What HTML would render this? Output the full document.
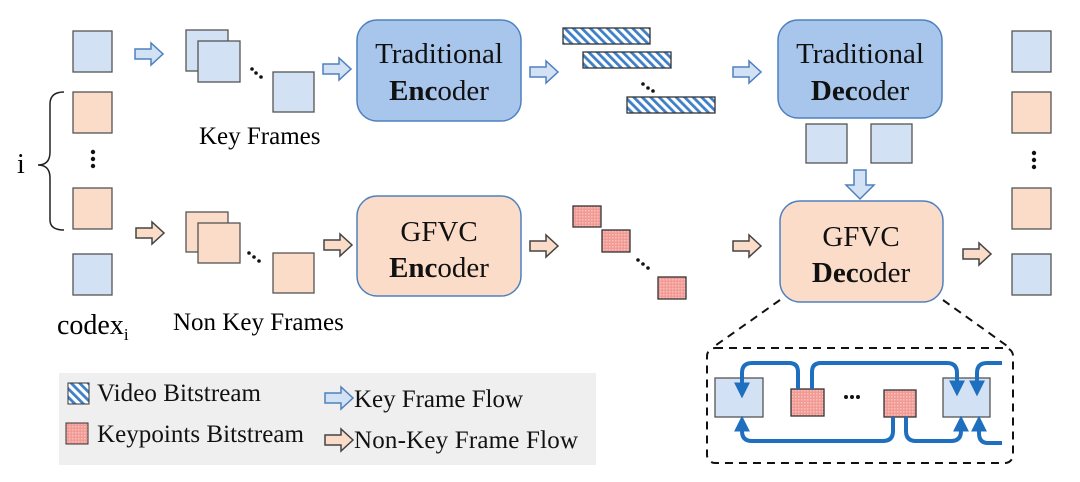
<!DOCTYPE html>
<html><head><meta charset="utf-8"><style>
html,body{margin:0;padding:0;background:#fff;}
svg{display:block;font-family:"Liberation Serif",serif;}
</style></head><body>
<svg width="1080" height="482" viewBox="0 0 1080 482" xmlns="http://www.w3.org/2000/svg">
<defs>
<pattern id="hatch" width="6" height="6" patternUnits="userSpaceOnUse" patternTransform="rotate(-45)">
<rect width="6" height="6" fill="#fff"/><rect width="2.8" height="6" fill="#3f7fc8"/>
</pattern>
<pattern id="dots" width="3" height="3" patternUnits="userSpaceOnUse">
<rect width="3" height="3" fill="#f29a94"/><rect width="1.5" height="1.5" fill="#f7c0bb"/>
</pattern>
<g id="ba"><path d="M0,-5 H16 V-11 L28,0 L16,11 V5 H0 Z" fill="#d3e1f4" stroke="#4e80c0" stroke-width="1.5"/></g>
<g id="pa"><path d="M0,-5 H16 V-11 L28,0 L16,11 V5 H0 Z" fill="#fbdcc8" stroke="#444" stroke-width="1.5"/></g>
<marker id="ah" viewBox="0 0 10 10" refX="6" refY="5" markerWidth="4" markerHeight="4" orient="auto"><path d="M0,0 L10,5 L0,10 Z" fill="#1f6fc0"/></marker>
</defs>
<g stroke="#555" stroke-width="1.3">
<rect x="73" y="31" width="39" height="41" fill="#d3e1f4"/>
<rect x="73" y="92" width="39" height="41" fill="#fbdcc8"/>
<rect x="73" y="188" width="39" height="41" fill="#fbdcc8"/>
<rect x="73" y="254" width="39" height="41" fill="#d3e1f4"/>
<rect x="186" y="30" width="42" height="41" fill="#d3e1f4"/>
<rect x="198" y="41" width="42" height="41" fill="#d3e1f4"/>
<rect x="273" y="72" width="41" height="40" fill="#d3e1f4"/>
<rect x="186" y="212" width="42" height="40" fill="#fbdcc8"/>
<rect x="198" y="223" width="42" height="40" fill="#fbdcc8"/>
<rect x="273" y="253" width="41" height="40" fill="#fbdcc8"/>
<rect x="1012" y="31" width="39" height="41" fill="#d3e1f4"/>
<rect x="1012" y="92" width="39" height="41" fill="#fbdcc8"/>
<rect x="1012" y="188" width="39" height="41" fill="#fbdcc8"/>
<rect x="1012" y="254" width="39" height="41" fill="#d3e1f4"/>
<rect x="806" y="124" width="41" height="39" fill="#d3e1f4"/>
<rect x="871" y="124" width="41" height="39" fill="#d3e1f4"/>
<rect x="563" y="28" width="87" height="16" fill="url(#hatch)" stroke="#333"/>
<rect x="583" y="52" width="88" height="16" fill="url(#hatch)" stroke="#333"/>
<rect x="627" y="97" width="88" height="16" fill="url(#hatch)" stroke="#333"/>
<rect x="573" y="206" width="28" height="21" fill="url(#dots)" stroke="#333"/>
<rect x="602" y="230" width="28" height="22" fill="url(#dots)" stroke="#333"/>
<rect x="658" y="277" width="28" height="22" fill="url(#dots)" stroke="#333"/>
</g>
<g fill="#111">
<circle cx="93" cy="152" r="2.2"/><circle cx="93" cy="159" r="2.2"/><circle cx="93" cy="166" r="2.2"/>
<circle cx="1034" cy="153" r="2.2"/><circle cx="1034" cy="160" r="2.2"/><circle cx="1034" cy="167" r="2.2"/>
<circle cx="252" cy="69" r="1.8"/><circle cx="256" cy="73" r="1.8"/><circle cx="261" cy="77" r="1.8"/>
<circle cx="249" cy="253" r="1.8"/><circle cx="254" cy="257" r="1.8"/><circle cx="259" cy="261" r="1.8"/>
<circle cx="643" cy="84" r="1.8"/><circle cx="648" cy="88" r="1.8"/><circle cx="653" cy="91" r="1.8"/>
<circle cx="638" cy="260" r="1.8"/><circle cx="643" cy="264" r="1.8"/><circle cx="648" cy="268" r="1.8"/>
</g>
<path d="M64,92 Q50,92 50,104 V152 Q50,165 38,165 Q50,165 50,178 V220 Q50,230 64,230" fill="none" stroke="#222" stroke-width="1.5"/>
<text x="17" y="173" font-size="28">i</text>
<text x="57" y="334" font-size="28">codex<tspan font-size="17" dy="6">i</tspan></text>
<text x="199" y="144" font-size="25">Key Frames</text>
<text x="173" y="330" font-size="25">Non Key Frames</text>
<use href="#ba" x="135" y="54"/>
<use href="#ba" x="323" y="69"/>
<use href="#ba" x="530" y="72"/>
<use href="#ba" x="733" y="72"/>
<use href="#pa" x="136" y="233"/>
<use href="#pa" x="324" y="245"/>
<use href="#pa" x="530" y="246"/>
<use href="#pa" x="733" y="246"/>
<use href="#pa" x="963" y="254"/>
<path d="M854,170 H866 V185 H874 L860,199 L846,185 H854 Z" fill="#d3e1f4" stroke="#4e80c0" stroke-width="1.5"/>
<rect x="357" y="20" width="164" height="101" rx="20" fill="#a8c6ec" stroke="#4e80c0" stroke-width="1.5"/>
<rect x="778" y="20" width="164" height="98" rx="20" fill="#a8c6ec" stroke="#4e80c0" stroke-width="1.5"/>
<rect x="357" y="196" width="164" height="100" rx="20" fill="#fbdcc8" stroke="#4e80c0" stroke-width="1.5"/>
<rect x="780" y="201" width="163" height="101" rx="20" fill="#fbdcc8" stroke="#4e80c0" stroke-width="1.5"/>
<g font-size="29" text-anchor="middle" fill="#111">
<text x="439" y="63">Traditional</text>
<text x="439" y="100"><tspan font-weight="bold">Enc</tspan>oder</text>
<text x="860" y="63">Traditional</text>
<text x="860" y="100"><tspan font-weight="bold">Dec</tspan>oder</text>
<text x="439" y="241">GFVC</text>
<text x="439" y="277"><tspan font-weight="bold">Enc</tspan>oder</text>
<text x="861" y="246">GFVC</text>
<text x="861" y="282"><tspan font-weight="bold">Dec</tspan>oder</text>
</g>
<g fill="none" stroke="#111" stroke-width="2" stroke-dasharray="8,6">
<line x1="780" y1="300" x2="712" y2="348"/>
<line x1="943" y1="300" x2="1010" y2="348"/>
<rect x="707" y="348" width="306" height="115" rx="8"/>
</g>
<g stroke="#555" stroke-width="1.3">
<rect x="715" y="378" width="48" height="39" fill="#d3e1f4"/>
<rect x="943" y="378" width="47" height="39" fill="#d3e1f4"/>
<rect x="791" y="389" width="33" height="27" fill="url(#dots)" stroke="#333"/>
<rect x="884" y="390" width="32" height="27" fill="url(#dots)" stroke="#333"/>
</g>
<g fill="#111"><circle cx="846" cy="397" r="2"/><circle cx="852" cy="397" r="2"/><circle cx="858" cy="397" r="2"/></g>
<g fill="none" stroke="#1f6fc0" stroke-width="4" marker-end="url(#ah)">
<path d="M798,389 V372 Q798,363 789,363 H752 Q742,363 742,373 V392"/>
<path d="M812,389 V372 Q812,363 821,363 H947 Q957,363 957,373 V390"/>
<path d="M1002,363 H987 Q977,363 977,373 V390"/>
<path d="M893,417 V431 Q893,441 883,441 H752 Q742,441 742,431 V422"/>
<path d="M906,417 V431 Q906,441 916,441 H951 Q961,441 961,431 V422"/>
<path d="M1002,443 H988 Q979,443 979,433 V422"/>
</g>
<rect x="59" y="373" width="537" height="92" fill="#efefef"/>
<rect x="68" y="383" width="21" height="21" fill="url(#hatch)" stroke="#333"/>
<rect x="66" y="423" width="22" height="21" fill="url(#dots)" stroke="#333"/>
<g font-size="25" fill="#111">
<text x="97" y="401" textLength="164">Video Bitstream</text>
<text x="97" y="442" textLength="207">Keypoints Bitstream</text>
<text x="354" y="407" textLength="169">Key Frame Flow</text>
<text x="354" y="448" textLength="224">Non-Key Frame Flow</text>
</g>
<use href="#ba" x="325" y="398"/>
<use href="#pa" x="325" y="440"/>
</svg>
</body></html>
